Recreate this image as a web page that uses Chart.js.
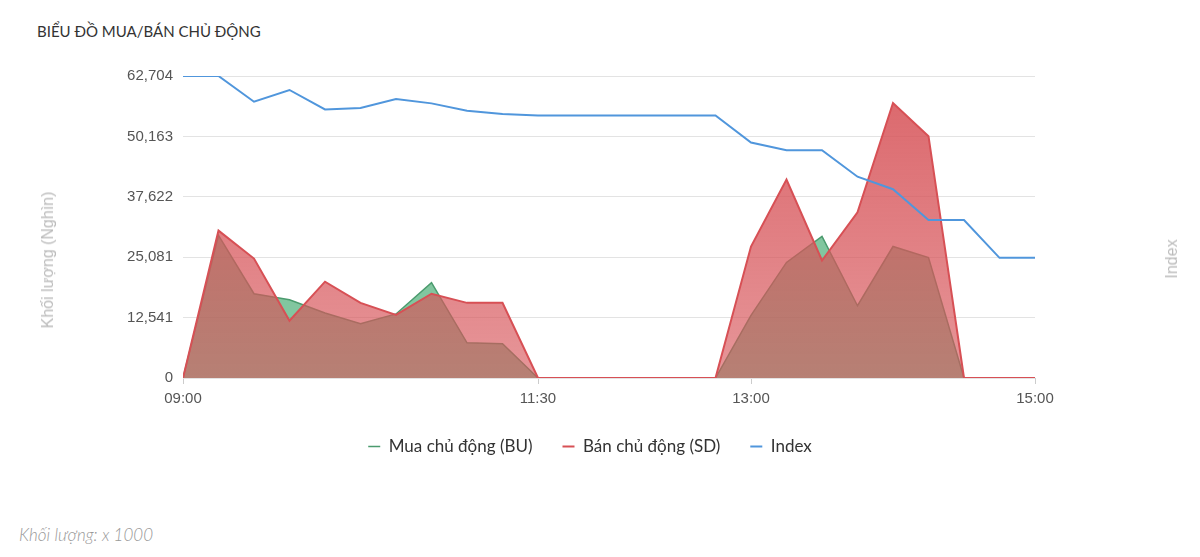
<!DOCTYPE html>
<html lang="vi">
<head>
<meta charset="utf-8">
<title>Biểu đồ mua/bán chủ động</title>
<script src="https://cdn.jsdelivr.net/npm/chart.js@4.4.1/dist/chart.umd.min.js"></script>
<style>
  body { margin: 0; background: #fff; width: 1200px; height: 557px; overflow: hidden; position: relative; font-family: Lato, "Open Sans", sans-serif; }
  .title { position: absolute; left: 37px; top: 22px; font-size: 15px; line-height: 18px; color: #333; }
  .wrap { position: absolute; left: 0; top: 0; width: 1200px; height: 469px; }
  .axis-title { position: absolute; color: #bbb; font: 16px "Liberation Sans", Arial, sans-serif; white-space: nowrap; transform: translate(-50%, -50%) rotate(-90deg); }
  .note { position: absolute; left: 19px; top: 524px; font-style: italic; font-weight: 300; font-size: 17px; color: #999; }
</style>
</head>
<body>
<div class="title">BIỂU ĐỒ MUA/BÁN CHỦ ĐỘNG</div>
<div class="wrap"><canvas id="chart"></canvas></div>
<div class="axis-title" style="left:48px;top:260px">Khối lượng (Nghìn)</div>
<div class="axis-title" style="left:1172px;top:259px">Index</div>
<div class="note">Khối lượng: x 1000</div>
<script>
// moc thoi gian 15 phut
const times = ['09:00','09:15','09:30','09:45','10:00','10:15','10:30','10:45','11:00','11:15','11:30','11:45','12:00',
  '12:15','12:30','12:45','13:00','13:15','13:30','13:45','14:00','14:15','14:30','14:45','15:00'];
const buyVolume  = [0, 29600, 17500, 16250, 13500, 11250, 13300, 19800, 7300, 7100, 0, 0, 0,
  0, 0, 0, 13000, 24000, 29400, 15000, 27300, 25000, 0, 0, 0];
const sellVolume = [0, 30600, 24800, 11900, 20000, 15600, 13100, 17500, 15600, 15600, 0, 0, 0,
  0, 0, 0, 27300, 41200, 24400, 34400, 57100, 50200, 0, 0, 0];
const indexLine  = [62704, 62704, 57360, 59800, 55770, 56050, 57920, 57020, 55480, 54800, 54520, 54520, 54520,
  54520, 54520, 54520, 48900, 47300, 47300, 41800, 39200, 32800, 32800, 24950, 24950];
const yTicks = [0, 12541, 25081, 37622, 50163, 62704];
const xTicks = ['09:00', '11:30', '13:00', '15:00'];

const toMin = t => { const [h, m] = t.split(':').map(Number); return (h - 9) * 60 + m; };
const toLabel = v => { const h = 9 + Math.floor(v / 60), m = v % 60; return String(h).padStart(2, '0') + ':' + String(m).padStart(2, '0'); };
const pts = arr => arr.map((y, i) => ({ x: toMin(times[i]), y }));

// nen do dam o tren, nhat dan xuong duoi
function redFill(ctx) {
  const area = ctx.chart.chartArea;
  if (!area) return 'rgba(215,85,90,0.75)';
  const g = ctx.chart.ctx.createLinearGradient(0, area.top, 0, area.bottom);
  g.addColorStop(0, 'rgba(215,85,90,0.9)');
  g.addColorStop(1, 'rgba(215,85,90,0.62)');
  return g;
}

new Chart(document.getElementById('chart'), {
  type: 'line',
  data: {
    datasets: [
      { label: 'Mua chủ động (BU)', data: pts(buyVolume), order: 2, yAxisID: 'y',
        borderColor: 'rgb(75,155,110)', borderWidth: 1.5, backgroundColor: 'rgba(45,160,95,0.6)', fill: 'origin',
        pointRadius: 0, tension: 0 },
      { label: 'Bán chủ động (SD)', data: pts(sellVolume), order: 1, yAxisID: 'y',
        borderColor: 'rgb(215,80,85)', borderWidth: 2, backgroundColor: redFill, fill: 'origin',
        pointRadius: 0, tension: 0 },
      { label: 'Index', data: pts(indexLine), order: 0, yAxisID: 'y1',
        borderColor: 'rgb(80,150,220)', borderWidth: 2, backgroundColor: 'rgb(80,150,220)', fill: false,
        pointRadius: 0, tension: 0 }
    ]
  },
  options: {
    responsive: true,
    maintainAspectRatio: false,
    animation: false,
    layout: { padding: { top: 76, bottom: 4, left: 0, right: 20 } },
    scales: {
      x: {
        type: 'linear', min: 0, max: 360,
        afterBuildTicks: a => { a.ticks = xTicks.map(t => ({ value: toMin(t) })); },
        afterFit: a => { a.height = 30; },
        ticks: { callback: v => toLabel(v), color: '#555', padding: 6, maxRotation: 0,
          font: { family: '"Liberation Sans", Arial, sans-serif', size: 15 } },
        grid: { drawOnChartArea: false, tickLength: 6, color: '#ccc' },
        border: { display: false }
      },
      y: {
        position: 'left', min: 0, max: 62704,
        afterBuildTicks: a => { a.ticks = yTicks.map(v => ({ value: v })); },
        afterFit: a => { a.width = 183; },
        ticks: { callback: v => v.toLocaleString('en-US'), color: '#555', padding: 10,
          font: { family: '"Liberation Sans", Arial, sans-serif', size: 15 } },
        grid: { color: '#e3e3e3', drawTicks: false },
        border: { display: false }
      },
      y1: {
        position: 'right', min: 0, max: 62704,
        afterFit: a => { a.width = 145; },
        ticks: { display: false },
        grid: { drawOnChartArea: false, drawTicks: false },
        border: { display: false }
      }
    },
    plugins: {
      legend: {
        position: 'bottom',
        labels: {
          usePointStyle: true, pointStyle: 'line', pointStyleWidth: 12, padding: 30,
          color: '#333', font: { family: 'Lato, "Open Sans", sans-serif', size: 17 },
          sort: (a, b) => a.datasetIndex - b.datasetIndex
        }
      },
      tooltip: { enabled: false }
    }
  }
});
</script>
</body>
</html>
